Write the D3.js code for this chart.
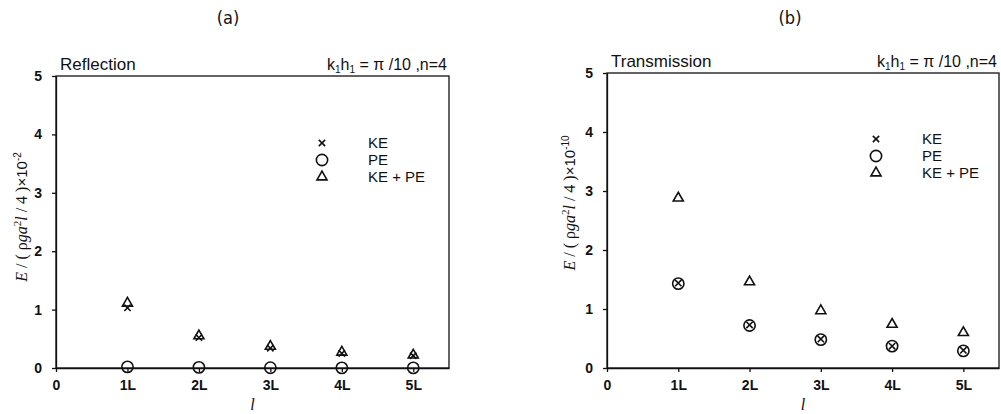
<!DOCTYPE html>
<html>
<head>
<meta charset="utf-8">
<script src="https://cdn.jsdelivr.net/npm/d3@7"></script>
<style>
  body { margin: 0; background: #fff; }
  svg text { font-family: "Liberation Sans", Arial, sans-serif; fill: #111; }
  .axis path, .axis line { stroke: #111; stroke-width: 1.3; }
  .axis text { font-size: 14px; font-weight: bold; }
</style>
</head>
<body>
<div id="chart"></div>
<script>
// category ticks (position 0..5)
var xTickVals = [0, 1, 2, 3, 4, 5];
var xTickLabels = ["0", "1L", "2L", "3L", "4L", "5L"];
var yTickVals = [0, 1, 2, 3, 4, 5];
var pos = [1, 2, 3, 4, 5];

// (a) Reflection, x10^-2
var reflKE = [1.03, 0.52, 0.34, 0.25, 0.21];
var reflPE = [0.02, 0.01, 0.005, 0.003, 0.002];
var reflSum = [1.11, 0.55, 0.37, 0.27, 0.22];

// (b) Transmission, x10^-10
var tranKE = [1.44, 0.73, 0.49, 0.37, 0.30];
var tranPE = [1.43, 0.72, 0.48, 0.37, 0.29];
var tranSum = [2.88, 1.46, 0.97, 0.74, 0.60];

var legendNames = ["KE", "PE", "KE + PE"];

var svg = d3.select("#chart").append("svg")
    .attr("width", 1001).attr("height", 414);

function panel(opt) {
    var x = d3.scaleLinear().domain([0, 5.5]).range([opt.left, opt.right]);
    var y = d3.scaleLinear().domain([0, 5]).range([368, opt.top]);
    var g = svg.append("g");

    // frame
    g.append("rect")
        .attr("x", opt.left).attr("y", opt.top)
        .attr("width", opt.right - opt.left).attr("height", 368 - opt.top)
        .attr("fill", "none").attr("stroke", "#111").attr("stroke-width", 1.3);

    g.append("g").attr("class", "axis")
        .attr("transform", "translate(0,368)")
        .call(d3.axisBottom(x).tickValues(xTickVals)
            .tickFormat(function (d, i) { return xTickLabels[i]; })
            .tickSize(4).tickSizeOuter(0).tickPadding(8));

    g.append("g").attr("class", "axis")
        .attr("transform", "translate(" + opt.left + ",0)")
        .call(d3.axisLeft(y).tickValues(yTickVals).tickFormat(d3.format("d"))
            .tickSize(4).tickSizeOuter(0).tickPadding(10));

    // titles
    g.append("text").attr("x", opt.left + 4).attr("y", opt.top - 6)
        .attr("font-size", 17).text(opt.title);
    var t = g.append("text").attr("x", opt.right - 2).attr("y", opt.top - 6)
        .attr("text-anchor", "end").attr("font-size", 16);
    t.append("tspan").text("k");
    t.append("tspan").attr("font-size", 10).attr("dy", 3).text("1");
    t.append("tspan").attr("dy", -3).text("h");
    t.append("tspan").attr("font-size", 10).attr("dy", 3).text("1");
    t.append("tspan").attr("dy", -3).text(" = \u03c0 /10 ,n=4");

    // panel letter
    svg.append("text").attr("x", opt.letterX).attr("y", 24)
        .attr("text-anchor", "middle").attr("font-size", 18)
        .style("font-family", "'DejaVu Sans Condensed', 'Liberation Sans Narrow', sans-serif")
        .text(opt.letter);

    // x label
    svg.append("text").attr("x", (opt.left + opt.right) / 2).attr("y", 410)
        .attr("text-anchor", "middle").attr("font-size", 16)
        .style("font-family", "'Liberation Serif', serif").style("font-style", "italic")
        .text("l");

    // y label
    var yl = svg.append("text")
        .attr("transform", "translate(" + opt.labelX + "," + opt.labelY + ") rotate(-90)")
        .attr("text-anchor", "middle").attr("font-size", 16)
        .style("font-family", "'Liberation Serif', serif");
    yl.append("tspan").style("font-style", "italic").text("E");
    yl.append("tspan").text(" / ( \u03c1");
    yl.append("tspan").style("font-style", "italic").text("ga");
    yl.append("tspan").attr("font-size", 11).attr("dy", -6).text("2");
    yl.append("tspan").attr("dy", 6).style("font-style", "italic").text("l");
    yl.append("tspan").text(" / 4 )");
    yl.append("tspan").style("font-family", "'Liberation Sans', sans-serif")
        .attr("font-size", 15).text("\u00d710");
    yl.append("tspan").style("font-family", "'Liberation Sans', sans-serif")
        .attr("font-size", 10).attr("dy", -6).text(opt.exp);

    var sym = {
        cross: d3.symbol().type(d3.symbolX).size(28),
        circle: d3.symbol().type(d3.symbolCircle).size(100),
        tri: d3.symbol().type(d3.symbolTriangle).size(44)
    };

    function draw(vals, s) {
        g.selectAll(null).data(vals).enter().append("path")
            .attr("transform", function (d, i) {
                return "translate(" + x(pos[i]) + "," + y(d) + ")";
            })
            .attr("d", sym[s])
            .attr("fill", "none").attr("stroke", "#111").attr("stroke-width", 1.6);
    }
    draw(opt.pe, "circle");
    draw(opt.ke, "cross");
    draw(opt.sum, "tri");

    // legend
    var keys = ["cross", "circle", "tri"];
    legendNames.forEach(function (n, i) {
        var ly = opt.legY + i * 17;
        g.append("path").attr("transform", "translate(" + opt.legX + "," + ly + ")")
            .attr("d", sym[keys[i]]).attr("fill", "none")
            .attr("stroke", "#111").attr("stroke-width", 1.6);
        g.append("text").attr("x", opt.legX + 46).attr("y", ly + 5)
            .attr("font-size", 15).text(n);
    });
}

panel({
    left: 56, right: 449, top: 76, title: "Reflection", letter: "(a)", letterX: 228,
    labelX: 27, labelY: 217, exp: "-2", legX: 322, legY: 143,
    ke: reflKE, pe: reflPE, sum: reflSum
});
panel({
    left: 607, right: 999, top: 73, title: "Transmission", letter: "(b)", letterX: 790,
    labelX: 575, labelY: 203, exp: "-10", legX: 876, legY: 139,
    ke: tranKE, pe: tranPE, sum: tranSum
});
</script>
</body>
</html>
